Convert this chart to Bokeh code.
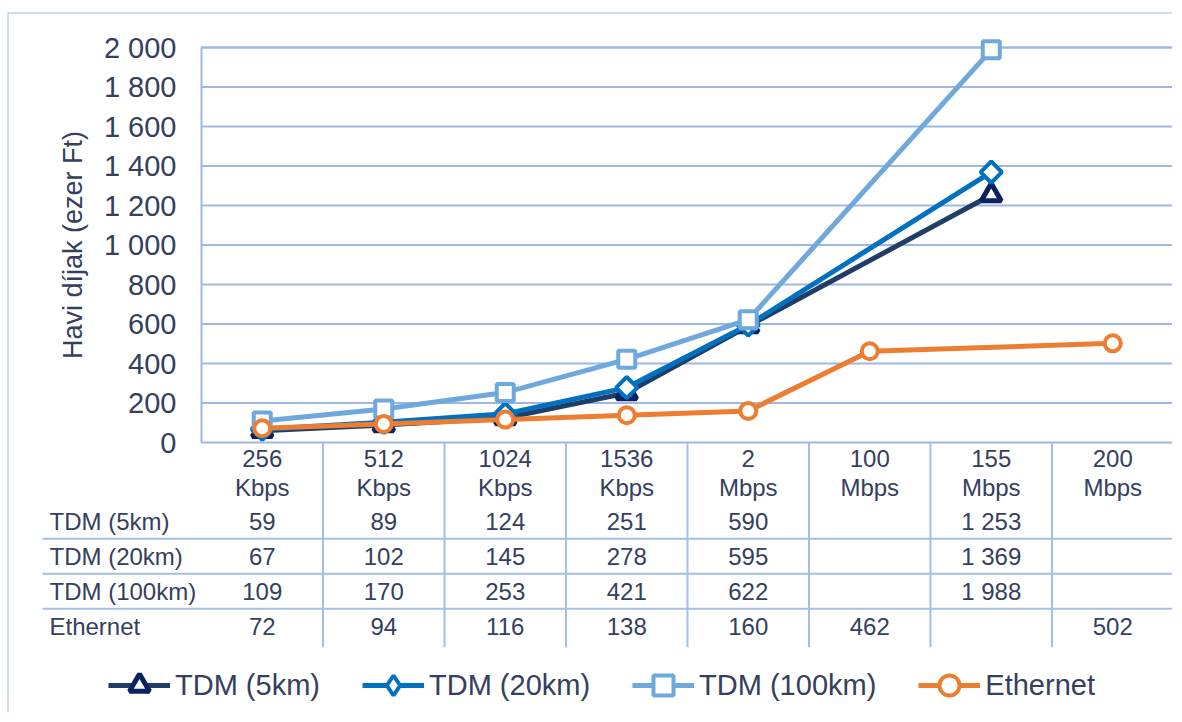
import math
from bokeh.plotting import figure
from bokeh.models import (Range1d, LinearAxis, FixedTicker, Legend, LegendItem,
                          Span, CustomJSTickFormatter)
from bokeh.core.properties import value
from bokeh.embed import file_html
from bokeh.resources import INLINE

# ---------------- data ----------------
categories = ["256 Kbps", "512 Kbps", "1024 Kbps", "1536 Kbps",
              "2 Mbps", "100 Mbps", "155 Mbps", "200 Mbps"]
tdm_5km = [59, 89, 124, 251, 590, None, 1253, None]
tdm_20km = [67, 102, 145, 278, 595, None, 1369, None]
tdm_100km = [109, 170, 253, 421, 622, None, 1988, None]
ethernet = [72, 94, 116, 138, 160, 462, None, 502]
series_names = ["TDM (5km)", "TDM (20km)", "TDM (100km)", "Ethernet"]
y_ticks = [0, 200, 400, 600, 800, 1000, 1200, 1400, 1600, 1800, 2000]
y_title = "Havi díjak (ezer Ft)"

# ---------------- style / layout ----------------
FONT = "Liberation Sans"
TEXT = "#34405E"
GRID = "#9DB7E1"
TABLE_LINE = "#A3BFE5"

W, H = 1172, 712
FL = 7                     # frame left (outer border)
TOP = 12                   # frame top (outer border)
X0 = 201                   # pixel of category 0 boundary
COL = 121.5                # pixels per category
Y0 = 442                   # pixel of value 0
YTOP = 47                  # pixel of top value
ROW = 35                   # pixels per table row

ncat = len(categories)
ymax = max(y_ticks)
ppu = (Y0 - YTOP) / ymax

x_range = Range1d((FL - X0) / COL, (W - X0) / COL)
y_range = Range1d(-(H - Y0) / ppu, (Y0 - TOP) / ppu)
t_range = Range1d((H - Y0) / ROW, -(Y0 - TOP) / ROW)   # flipped: rows go downward

p = figure(width=W, height=H, x_range=x_range, y_range=y_range,
           output_backend="svg", toolbar_location=None,
           x_axis_location=None, y_axis_location=None,
           min_border_left=FL, min_border_right=0, min_border_top=TOP,
           min_border_bottom=0, outline_line_color=None,
           background_fill_color="white", border_fill_color="white")
p.extra_y_ranges = {"table": t_range}
p.grid.visible = False

# outer chart border (top and left)
p.add_layout(Span(location=x_range.start, dimension="height",
                  line_color=GRID, line_width=2))
p.add_layout(Span(location=y_range.end, dimension="width",
                  line_color=GRID, line_width=2))

# y axis
yaxis = LinearAxis(fixed_location=0, bounds=(0, ymax),
                   ticker=FixedTicker(ticks=y_ticks),
                   formatter=CustomJSTickFormatter(
                       code='return tick.toString().replace(/\\B(?=(\\d{3})+(?!\\d))/g, " ");'),
                   axis_label=y_title)
yaxis.axis_line_color = None
yaxis.major_tick_line_color = None
yaxis.minor_tick_line_color = None
yaxis.major_tick_out = 0
yaxis.major_tick_in = 0
yaxis.major_label_standoff = 25
yaxis.major_label_text_font = FONT
yaxis.major_label_text_font_size = "29px"
yaxis.major_label_text_color = TEXT
yaxis.axis_label_text_font = FONT
yaxis.axis_label_text_font_size = "27px"
yaxis.axis_label_text_font_style = "normal"
yaxis.axis_label_text_color = TEXT
yaxis.axis_label_standoff = 13
p.add_layout(yaxis, "left")

# grid lines and plot-area border
p.segment(x0=0, x1=ncat, y0=y_ticks[1:], y1=y_ticks[1:],
          line_color=GRID, line_width=2)
p.quad(left=0, right=ncat, bottom=0, top=ymax, fill_color=None,
       line_color=GRID, line_width=2)

# series
styles = [
    dict(data=tdm_5km, line="#1F3D66", mcol="#0C2160", marker="triangle", size=20, mlw=5),
    dict(data=tdm_20km, line="#0070C0", mcol="#0070C0", marker="diamond", size=21, mlw=4),
    dict(data=tdm_100km, line="#6FA8DC", mcol="#6FA8DC", marker="square", size=17, mlw=4),
    dict(data=ethernet, line="#ED7D31", mcol="#ED7D31", marker="circle", size=16, mlw=4),
]
items = []
for name, st in zip(series_names, styles):
    xs = [i + 0.5 for i, v in enumerate(st["data"]) if v is not None]
    ys = [v for v in st["data"] if v is not None]
    lr = p.line(xs, ys, line_color=st["line"], line_width=5)
    mr = p.scatter(xs, ys, marker=st["marker"], size=st["size"],
                   fill_color="white", line_color=st["mcol"], line_width=st["mlw"])
    if st["marker"] == "diamond":
        # wider, square-shaped diamonds on the chart itself
        p.scatter(xs, ys, marker="square", size=15, angle=math.pi / 4,
                  fill_color="white", line_color=st["mcol"], line_width=st["mlw"])
    items.append(LegendItem(label=name, renderers=[lr, mr]))

# ---------------- data table ----------------
centers = [i + 0.5 for i in range(ncat)]
p.text(x=centers, y=[0.86] * ncat, text=[c.replace(" ", "\n") for c in categories],
       y_range_name="table", text_font=value(FONT), text_font_size="24px",
       text_color=TEXT, text_align="center", text_baseline="middle",
       text_line_height=1.08)

label_x = (49 - X0) / COL
for k, (name, st) in enumerate(zip(series_names, styles)):
    ty = 2.25 + k
    p.text(x=[label_x], y=[ty], text=[name], y_range_name="table",
           text_font=value(FONT), text_font_size="24px", text_color=TEXT,
           text_align="left", text_baseline="middle")
    xs = [i + 0.5 for i, v in enumerate(st["data"]) if v is not None]
    txt = [f"{v:,}".replace(",", " ") for v in st["data"] if v is not None]
    p.text(x=xs, y=[ty] * len(xs), text=txt, y_range_name="table",
           text_font=value(FONT), text_font_size="24px", text_color=TEXT,
           text_align="center", text_baseline="middle")

nrows = len(series_names)
line_left = (42 - X0) / COL
p.segment(x0=[line_left] * (nrows - 1), x1=[ncat] * (nrows - 1),
          y0=[2.75 + k for k in range(nrows - 1)], y1=[2.75 + k for k in range(nrows - 1)],
          y_range_name="table", line_color=TABLE_LINE, line_width=2)
p.segment(x0=list(range(1, ncat)), x1=list(range(1, ncat)),
          y0=[0] * (ncat - 1), y1=[nrows + 1.85] * (ncat - 1),
          y_range_name="table", line_color=TABLE_LINE, line_width=2)

# ---------------- legend ----------------
legend = Legend(items=items, orientation="horizontal", location=(108 - FL, 2),
                glyph_width=62, glyph_height=50, label_standoff=5, spacing=42,
                padding=0, margin=0, border_line_color=None,
                background_fill_alpha=0, label_text_font=FONT,
                label_text_font_size="29px", label_text_color=TEXT)
p.add_layout(legend)

open("out.html", "w").write(file_html(p, INLINE))
